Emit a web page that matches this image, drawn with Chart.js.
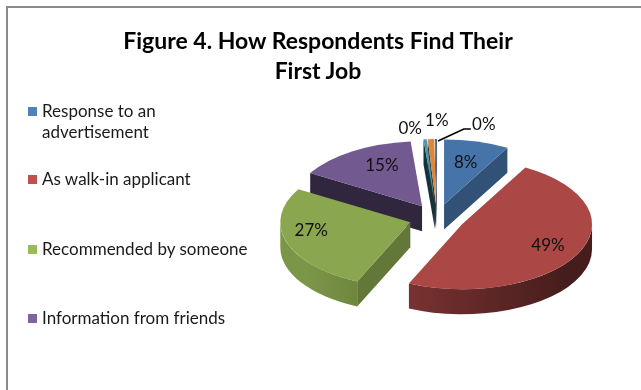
<!DOCTYPE html>
<html>
<head>
<meta charset="utf-8">
<script src="https://cdn.jsdelivr.net/npm/chart.js@4.4.1/dist/chart.umd.min.js"></script>
<style>
  html, body { margin: 0; padding: 0; background: #ffffff; }
  #wrap { position: relative; width: 641px; height: 390px; overflow: hidden; background: #fff; font-family: Lato, "Open Sans", "DejaVu Sans", sans-serif; }
  #frame { position: absolute; left: 6px; top: 6px; width: 700px; height: 500px; border-left: 2px solid #8a8a8a; border-top: 2px solid #8a8a8a; }
  #chart { position: absolute; left: 0; top: 0; }
  #title { position: absolute; left: 0; top: 25px; width: 636px; text-align: center; font-weight: bold; font-size: 23px; line-height: 30px; color: #000; }
  .lg { position: absolute; left: 28px; font-size: 17px; line-height: 21px; color: #1a1a1a; }
  .lg .sw { position: absolute; left: 0; top: 7px; width: 9px; height: 9px; }
  .lg .tx { margin-left: 14px; width: 214px; }
</style>
</head>
<body>
<div id="wrap">
  <div id="frame"></div>
  <canvas id="chart" width="641" height="390"></canvas>
  <div id="title"></div>
  <div id="legend"></div>
</div>
<script>
// ---- data ----
const titleLines = ["Figure 4. How Respondents Find Their", "First Job"];
const categories = [
  "Response to an advertisement",
  "As walk-in applicant",
  "Recommended by someone",
  "Information from friends",
  "Other source A",
  "Other source B",
  "Other source C"
];
const values = [8.1, 48.6, 26.8, 15.1, 0.4, 0.8, 0.2];   // percent of respondents
const legendShown = 4;                                  // legend in the figure lists the first four
const sliceColors = ["#4F81BD", "#C0504D", "#9BBB59", "#8064A2", "#4BACC6", "#F79646", "#2C4D75"];

// ---- styles ----
const legendTops = [100, 168, 238, 307];
const labelPlacement = [
  { f: 0.66 }, { f: 0.74 }, { f: 0.8, dy: -7 }, { f: 0.58, dy: -9 },
  { f: 1.2, dx: -13, dy: 2 }, { f: 1.26, dx: 7, dy: -2 }, { f: 1.2, dx: 48, dy: -1, leader: true }
];

document.getElementById('title').innerHTML = titleLines.map(t => t.replace(/&/g,'&amp;')).join('<br>');
const lg = document.getElementById('legend');
categories.slice(0, legendShown).forEach((c, i) => {
  const d = document.createElement('div');
  d.className = 'lg';
  d.style.top = legendTops[i] + 'px';
  const sw = document.createElement('div');
  sw.className = 'sw'; sw.style.background = sliceColors[i];
  const tx = document.createElement('div');
  tx.className = 'tx'; tx.textContent = c;
  d.appendChild(sw); d.appendChild(tx);
  lg.appendChild(d);
});

function shade(hex, f) {
  const n = parseInt(hex.slice(1), 16);
  const r = Math.round(((n >> 16) & 255) * f), g = Math.round(((n >> 8) & 255) * f), b = Math.round((n & 255) * f);
  return `rgb(${Math.min(255,r)},${Math.min(255,g)},${Math.min(255,b)})`;
}

const pie3d = {
  id: 'pie3d',
  beforeDatasetsDraw(chart, args, o) {
    const ctx = chart.ctx;
    const meta = chart.getDatasetMeta(0);
    const ds = chart.data.datasets[0];
    const k = o.tilt, D = o.depth, E = o.explode;
    const total = ds.data.reduce((a, b) => a + b, 0);
    const slices = meta.data.map((arc, i) => {
      const p = arc.getProps(['x', 'y', 'startAngle', 'endAngle', 'outerRadius'], true);
      const mid = (p.startAngle + p.endAngle) / 2;
      return {
        i, a0: p.startAngle, a1: p.endAngle, mid, R: p.outerRadius, ox: p.x, oy: p.y,
        cx: p.x + Math.cos(mid) * E, cy: p.y + Math.sin(mid) * E * k,
        color: ds.backgroundColor[i]
      };
    });
    const order = slices.slice().sort((a, b) => Math.sin(a.mid) - Math.sin(b.mid));
    ctx.save();
    order.forEach(s => {
      const { cx, cy, R, a0, a1, color } = s;
      const ry = R * k;
      const pt = (a, dy) => [cx + Math.cos(a) * R, cy + Math.sin(a) * ry + (dy || 0)];
      // cut faces
      const faces = [];
      if (Math.cos(a0) < -1e-6) faces.push([a0, a0 - Math.PI / 2]);
      if (Math.cos(a1) > 1e-6) faces.push([a1, a1 + Math.PI / 2]);
      faces.forEach(([a, nrm]) => {
        const p = pt(a);
        ctx.beginPath();
        ctx.moveTo(cx, cy); ctx.lineTo(p[0], p[1]); ctx.lineTo(p[0], p[1] + D); ctx.lineTo(cx, cy + D);
        ctx.closePath();
        ctx.fillStyle = shade(color, 0.47 + 0.18 * Math.cos(nrm));
        ctx.fill();
      });
      // curved outer side
      const lo = Math.max(a0, 0), hi = Math.min(a1, Math.PI);
      if (hi > lo) {
        ctx.beginPath();
        ctx.ellipse(cx, cy, R, ry, 0, lo, hi, false);
        const q = pt(hi, D);
        ctx.lineTo(q[0], q[1]);
        ctx.ellipse(cx, cy + D, R, ry, 0, hi, lo, true);
        ctx.closePath();
        const g = ctx.createLinearGradient(s.ox - R, 0, s.ox + R, 0);
        g.addColorStop(0, shade(color, 0.8));
        g.addColorStop(0.5, shade(color, 0.58));
        g.addColorStop(1, shade(color, 0.36));
        ctx.fillStyle = g;
        ctx.fill();
      }
      // top face
      ctx.beginPath();
      ctx.moveTo(cx, cy);
      ctx.ellipse(cx, cy, R, ry, 0, a0, a1, false);
      ctx.closePath();
      ctx.fillStyle = shade(color, 0.89);
      ctx.fill();
    });
    // data labels
    ctx.font = o.font;
    ctx.fillStyle = o.labelColor;
    ctx.textAlign = 'center';
    ctx.textBaseline = 'middle';
    slices.forEach(s => {
      const pl = o.placement[s.i] || { f: 0.7 };
      const r = s.R * pl.f;
      const bx = s.cx + Math.cos(s.mid) * r;
      const by = s.cy + Math.sin(s.mid) * r * k;
      const lx = bx + (pl.dx || 0), ly = by + (pl.dy || 0);
      const txt = Math.round(ds.data[s.i] / total * 100) + '%';
      if (pl.leader) {
        const ex = s.cx + Math.cos(s.mid) * s.R + 2, ey = s.cy + Math.sin(s.mid) * s.R * k + 2;
        ctx.beginPath();
        ctx.moveTo(ex, ey);
        ctx.lineTo(lx - 20, ly + 4);
        ctx.lineTo(lx - 13, ly + 4);
        ctx.strokeStyle = '#000';
        ctx.lineWidth = 1.5;
        ctx.stroke();
      }
      ctx.fillText(txt, lx, ly);
    });
    ctx.restore();
    return false;
  }
};

new Chart(document.getElementById('chart'), {
  type: 'pie',
  data: {
    labels: categories,
    datasets: [{ data: values, backgroundColor: sliceColors, borderWidth: 0 }]
  },
  options: {
    responsive: false,
    animation: false,
    events: [],
    radius: 130,
    layout: { padding: { left: 250, right: 17, top: 100, bottom: 54 } },
    plugins: {
      legend: { display: false },
      title: { display: false },
      tooltip: { enabled: false },
      pie3d: {
        tilt: 0.5, depth: 25, explode: 28,
        font: '17px Lato, "Open Sans", sans-serif', labelColor: '#111',
        placement: labelPlacement
      }
    }
  },
  plugins: [pie3d]
});
</script>
</body>
</html>
